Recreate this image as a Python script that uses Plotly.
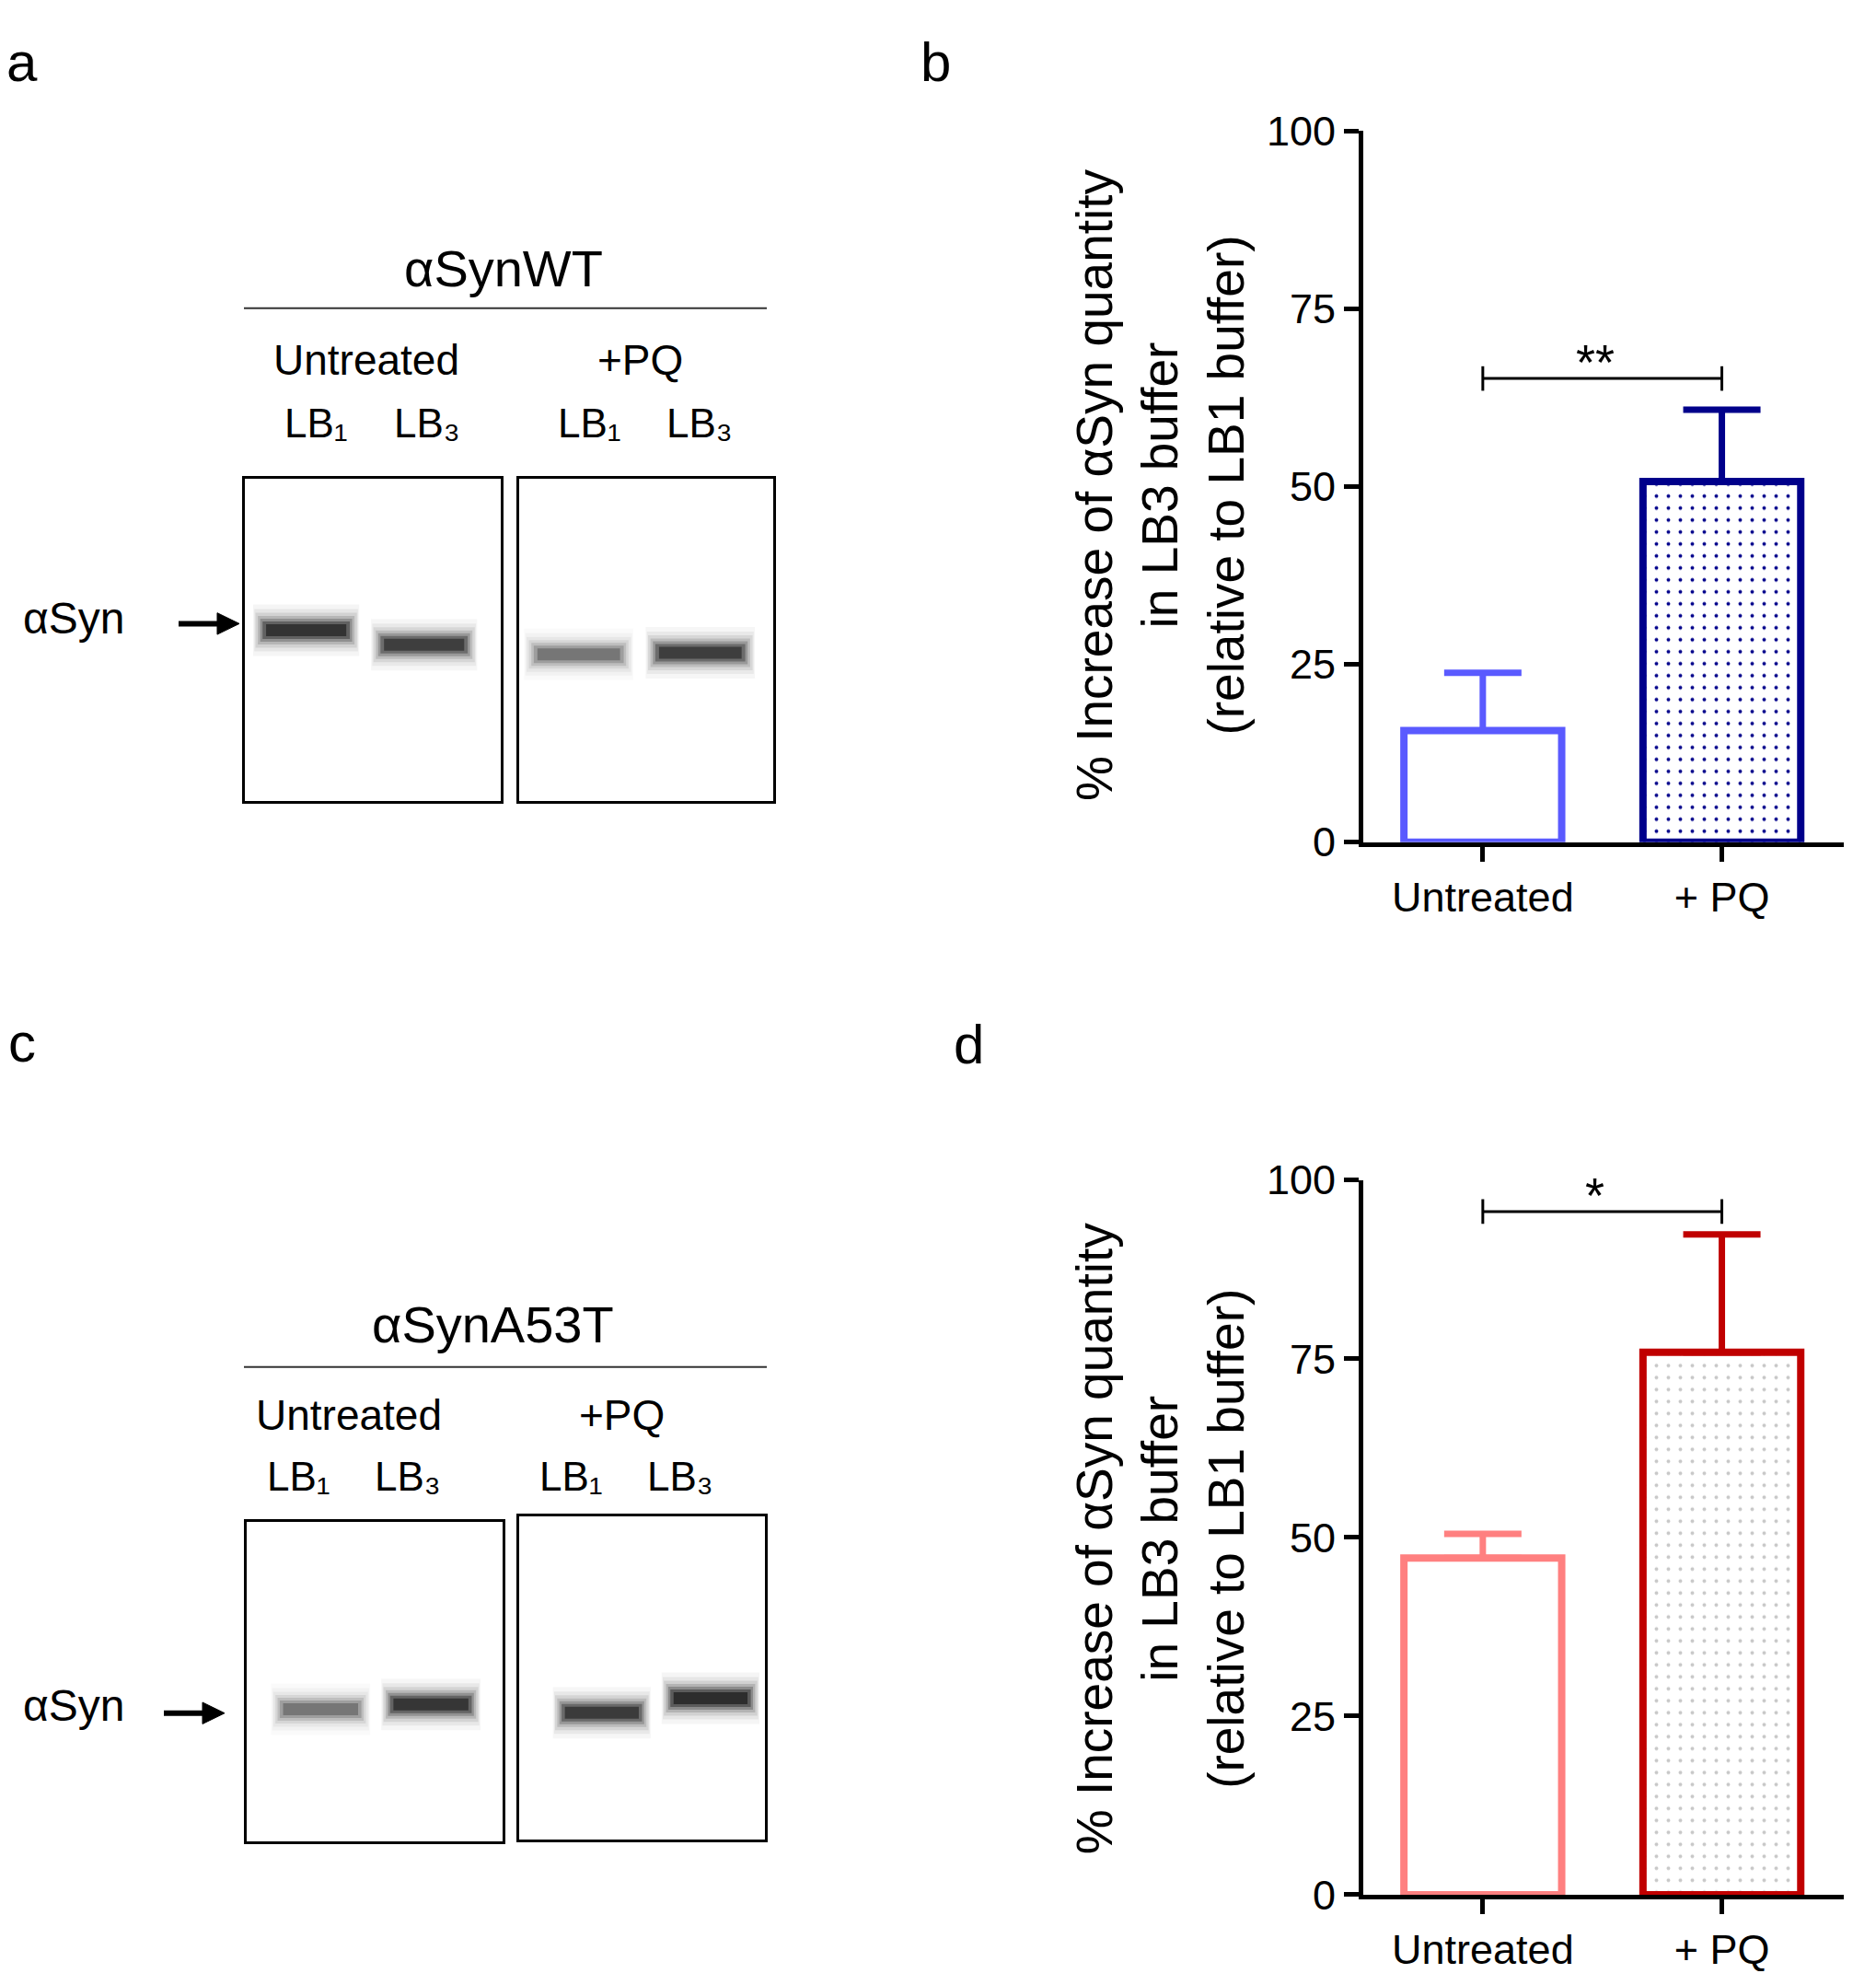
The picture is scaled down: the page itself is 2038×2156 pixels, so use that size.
import plotly.graph_objects as go

W, H = 2038, 2156

# quantification (b: aSynWT, d: aSynA53T)
conditions = ["Untreated", "+ PQ"]
wt_mean = [15.7, 50.7]
wt_err = [8.1, 10.1]
wt_signif = "**"
wt_bracket = 65.2

a53t_mean = [47.1, 75.9]
a53t_err = [3.4, 16.5]
a53t_signif = "*"
a53t_bracket = 95.6

y_ticks = [0, 25, 50, 75, 100]

# western blots: relative band intensity and migration (fraction of gel height)
lanes = ["LB₁", "LB₃"]
wt_untreated_int = [0.95, 0.85]
wt_untreated_rf = [0.47, 0.515]
wt_pq_int = [0.5, 0.85]
wt_pq_rf = [0.545, 0.54]
a53t_untreated_int = [0.5, 0.92]
a53t_untreated_rf = [0.586, 0.571]
a53t_pq_int = [0.88, 1.0]
a53t_pq_rf = [0.607, 0.562]


def px(x):
    return x / W


def py(y):
    return 1 - y / H


FONT = "Liberation Sans, Arial, sans-serif"
BLOT_FONT = "Liberation Sans Narrow, Arial Narrow, Liberation Sans, Arial, sans-serif"

fig = go.Figure()


def add_bars(xa, ya, means, errs, colors, dots, bracket, signif):
    for i, cond in enumerate(conditions):
        marker = dict(color="white", line=dict(color=colors[i], width=8))
        if dots[i]:
            marker["pattern"] = dict(shape=".", fgcolor=dots[i], bgcolor="white",
                                     size=13, solidity=0.07, fillmode="replace")
        fig.add_trace(go.Bar(
            x=[cond], y=[means[i]], width=0.66, marker=marker,
            error_y=dict(type="data", array=[errs[i]], arrayminus=[0], symmetric=False,
                         color=colors[i], thickness=7, width=42),
            xaxis=xa, yaxis=ya, showlegend=False, hoverinfo="skip"))
    fig.add_trace(go.Scatter(
        x=conditions, y=[bracket, bracket], mode="lines+markers",
        line=dict(color="black", width=3),
        marker=dict(symbol="line-ns-open", size=19, color="black",
                    line=dict(color="black", width=3)),
        xaxis=xa, yaxis=ya, showlegend=False, hoverinfo="skip"))
    fig.add_annotation(x=0.47, y=bracket, xref=xa, yref=ya, text=signif,
                       showarrow=False, yanchor="middle", yshift=18,
                       font=dict(family=FONT, size=54, color="black"))


def add_gel(xa, ya, intensity, rf):
    # each band is a stack of soft strokes to imitate the blurred chemiluminescence signal
    layers = [(0.45, 56, 0.04), (0.44, 46, 0.06), (0.43, 38, 0.09), (0.41, 31, 0.14),
              (0.39, 25, 0.22), (0.37, 19, 0.34), (0.34, 13, 0.5)]
    for i in range(len(lanes)):
        for half, lw, alpha in layers:
            fig.add_trace(go.Scatter(
                x=[i - half, i + half], y=[rf[i], rf[i]], mode="lines",
                line=dict(color="rgba(0,0,0,%.3f)" % (alpha * intensity[i]), width=lw),
                xaxis=xa, yaxis=ya, showlegend=False, hoverinfo="skip"))


add_bars("x", "y", wt_mean, wt_err, ["#5A5AFF", "#00008B"], [None, "#00008B"],
         wt_bracket, wt_signif)
add_bars("x2", "y2", a53t_mean, a53t_err, ["#FF8080", "#C00000"], [None, "#C8C8C8"],
         a53t_bracket, a53t_signif)

add_gel("x3", "y3", wt_untreated_int, wt_untreated_rf)
add_gel("x4", "y4", wt_pq_int, wt_pq_rf)
add_gel("x5", "y5", a53t_untreated_int, a53t_untreated_rf)
add_gel("x6", "y6", a53t_pq_int, a53t_pq_rf)


def bar_xaxis(anchor):
    return dict(domain=[px(1473), px(1995)], anchor=anchor, range=[-0.5, 1.51],
                type="category", categoryorder="array", categoryarray=conditions,
                showline=True, linecolor="black", linewidth=5,
                ticks="outside", ticklen=16, tickwidth=5, tickcolor="black",
                tickfont=dict(family=FONT, size=45, color="black"),
                showgrid=False, zeroline=False)


def bar_yaxis(anchor, top, bottom):
    return dict(domain=[py(bottom), py(top)], anchor=anchor, range=[0, 100],
                tickvals=y_ticks, showline=True, linecolor="black", linewidth=5,
                ticks="outside", ticklen=16, tickwidth=5, tickcolor="black",
                tickfont=dict(family=FONT, size=45, color="black"),
                showgrid=False, zeroline=False)


def gel_axes(anchor, x0, x1, y0, y1, xr):
    common = dict(showline=True, mirror=True, linecolor="black", linewidth=3,
                  showticklabels=False, ticks="", showgrid=False, zeroline=False)
    xa = dict(domain=[px(x0), px(x1)], anchor=anchor[1], range=xr, **common)
    ya = dict(domain=[py(y1), py(y0)], anchor=anchor[0], range=[1, 0], **common)
    return xa, ya


x3, y3 = gel_axes(("x3", "y3"), 258, 536, 499, 857, [-0.52, 1.65])
x4, y4 = gel_axes(("x4", "y4"), 556, 832, 499, 857, [-0.49, 1.6])
x5, y5 = gel_axes(("x5", "y5"), 260, 538, 1659, 2015, [-0.67, 1.65])
x6, y6 = gel_axes(("x6", "y6"), 556, 823, 1653, 2013, [-0.76, 1.5])

fig.update_layout(
    width=W, height=H, margin=dict(l=0, r=0, t=0, b=0),
    paper_bgcolor="white", plot_bgcolor="white", barmode="overlay",
    xaxis=bar_xaxis("y"), yaxis=bar_yaxis("x", 112, 903),
    xaxis2=bar_xaxis("y2"), yaxis2=bar_yaxis("x2", 1279, 2074),
    xaxis3=x3, yaxis3=y3, xaxis4=x4, yaxis4=y4,
    xaxis5=x5, yaxis5=y5, xaxis6=x6, yaxis6=y6,
)


def text(x, y, s, size, family=FONT, angle=0, yanchor="middle"):
    fig.add_annotation(x=px(x), y=py(y), xref="paper", yref="paper", text=s,
                       showarrow=False, xanchor="center", yanchor=yanchor,
                       textangle=angle, borderpad=0,
                       font=dict(family=family, size=size, color="black"))


def arrow(x_tail, x_tip, y):
    fig.add_shape(type="line", xref="paper", yref="paper", x0=px(x_tail), x1=px(x_tip - 18),
                  y0=py(y), y1=py(y), line=dict(color="black", width=6))
    fig.add_shape(type="path", xref="paper", yref="paper",
                  path="M %f,%f L %f,%f L %f,%f Z" % (px(x_tip - 24), py(y - 12),
                                                      px(x_tip), py(y),
                                                      px(x_tip - 24), py(y + 12)),
                  fillcolor="black", line=dict(color="black", width=1))


# panel letters
text(16, 0, "a", 60, yanchor="top")
text(1008, 0, "b", 60, yanchor="top")
text(16, 1126, "c", 60)
text(1044, 1128, "d", 60)

# y-axis titles
ytitle = "% Increase of αSyn quantity<br>in LB3 buffer<br>(relative to LB1 buffer)"
text(1252, 506, ytitle, 55, angle=-90)
text(1252, 1678, ytitle, 55, angle=-90)

# blot headers
blot_headers = [
    ("αSynWT", 539, 265, 309, 367, 437, [335, 456, 632, 752], 390, 687, 72, 654, 186, 252, 660),
    ("αSynA53T", 527, 1440, 1487, 1540, 1609, [316, 435, 612, 731], 371, 667, 72, 1864, 170, 236, 1872),
]
for (name, tx, ty, ly, cy, lby, lbx, ux, pqx,
     sx, sy, arrow_tail, arrow_tip, arrow_y) in blot_headers:
    text(tx, ty, name, 56, BLOT_FONT)
    fig.add_shape(type="line", xref="paper", yref="paper", x0=px(257), x1=px(825),
                  y0=py(ly), y1=py(ly), line=dict(color="#333333", width=2))
    text(ux, cy, "Untreated", 46, BLOT_FONT)
    text(pqx, cy, "+PQ", 46, BLOT_FONT)
    for k, x in enumerate(lbx):
        text(x, lby, lanes[k % 2], 44, BLOT_FONT)
    text(sx, sy, "αSyn", 48, BLOT_FONT)
    arrow(arrow_tail, arrow_tip, arrow_y)

fig.write_html("out.html")
